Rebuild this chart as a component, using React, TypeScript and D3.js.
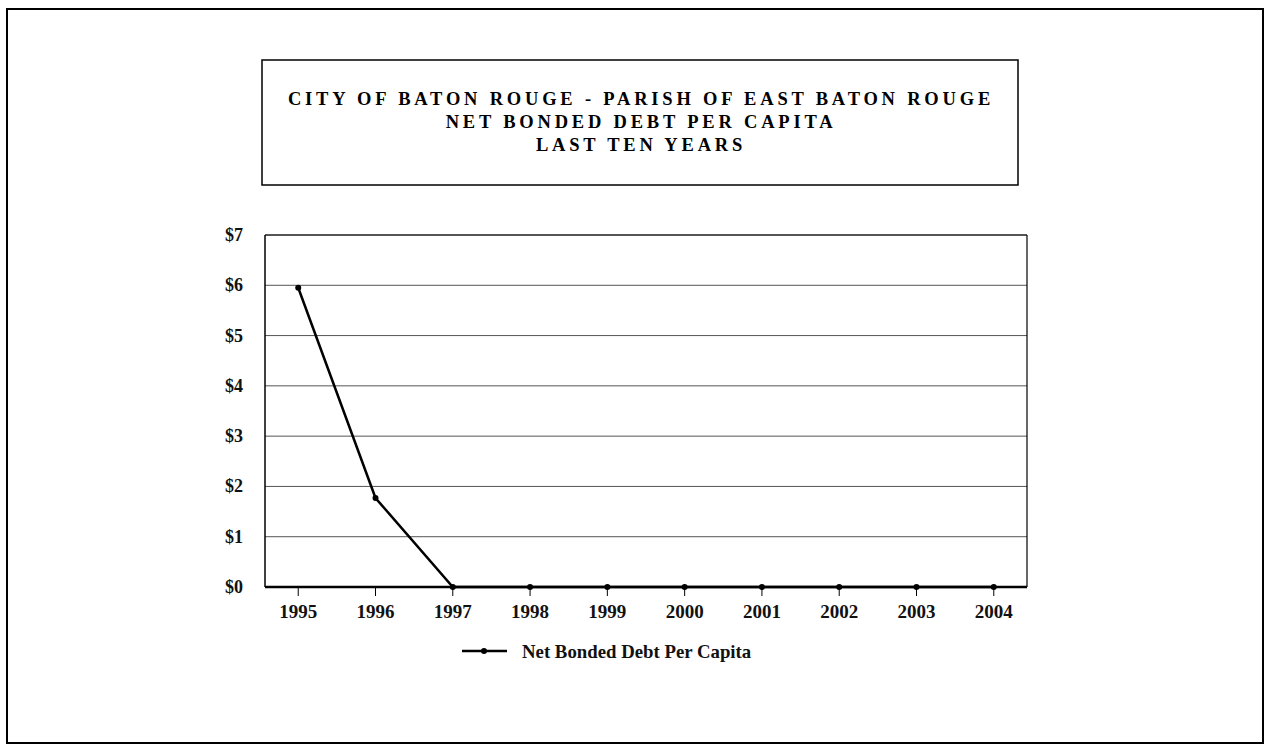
import React from "react";
import * as d3 from "d3";

const years = ["1995", "1996", "1997", "1998", "1999", "2000", "2001", "2002", "2003", "2004"];
const debtPerCapita = [5.95, 1.77, 0, 0, 0, 0, 0, 0, 0, 0];
const yTicks = [0, 1, 2, 3, 4, 5, 6, 7];
const titleLines = [
  "CITY OF BATON ROUGE - PARISH OF EAST BATON ROUGE",
  "NET BONDED DEBT PER CAPITA",
  "LAST TEN YEARS",
];
const seriesName = "Net Bonded Debt Per Capita";

const W = 1268;
const H = 752;
const plot = { left: 265, right: 1027, top: 235, bottom: 587 };
const font = "'Liberation Serif', 'Times New Roman', serif";

export default function App() {
  const x = d3.scalePoint<string>().domain(years).range([plot.left, plot.right]).padding(0.43);
  const y = d3.scaleLinear().domain([0, 7]).range([plot.bottom, plot.top]);
  const line = d3
    .line<number>()
    .x((_, i) => x(years[i]) as number)
    .y((d) => y(d));

  return (
    <svg
      width={W}
      height={H}
      style={{ position: "absolute", left: 0, top: 0, background: "#fff" }}
    >
      <rect x={0} y={0} width={W} height={H} fill="#fff" />
      {/* outer border */}
      <rect x={7} y={9} width={1256} height={734} fill="none" stroke="#000" strokeWidth={2} />
      {/* title box */}
      <rect x={262} y={60} width={756} height={125} fill="none" stroke="#000" strokeWidth={1.5} />
      {titleLines.map((t, i) => (
        <text
          key={i}
          x={641}
          y={105 + i * 23}
          textAnchor="middle"
          fontFamily={font}
          fontWeight="bold"
          fontSize={18.5}
          letterSpacing={3.8}
          fill="#000"
        >
          {t}
        </text>
      ))}

      {/* gridlines */}
      {yTicks.map((v) => (
        <line
          key={v}
          x1={plot.left}
          x2={plot.right}
          y1={y(v)}
          y2={y(v)}
          stroke={v === 0 ? "#000" : "#555"}
          strokeWidth={v === 0 ? 2.5 : 1}
        />
      ))}
      {/* plot border */}
      <line x1={plot.left} x2={plot.left} y1={plot.top} y2={plot.bottom} stroke="#000" strokeWidth={1.5} />
      <line x1={plot.right} x2={plot.right} y1={plot.top} y2={plot.bottom} stroke="#000" strokeWidth={1.2} />
      <line x1={plot.left} x2={plot.right} y1={plot.top} y2={plot.top} stroke="#000" strokeWidth={1.2} />

      {/* y labels */}
      {yTicks.map((v) => (
        <text
          key={v}
          x={243}
          y={y(v) + 6}
          textAnchor="end"
          fontFamily={font}
          fontWeight="bold"
          fontSize={18}
          fill="#111"
        >
          {"$" + v}
        </text>
      ))}

      {/* x ticks & labels */}
      {years.map((yr) => (
        <g key={yr}>
          <line
            x1={x(yr)}
            x2={x(yr)}
            y1={plot.bottom}
            y2={plot.bottom + 9}
            stroke="#000"
            strokeWidth={1}
          />
          <text
            x={x(yr)}
            y={618}
            textAnchor="middle"
            fontFamily={font}
            fontWeight="bold"
            fontSize={19}
            fill="#111"
          >
            {yr}
          </text>
        </g>
      ))}

      {/* series */}
      <path d={line(debtPerCapita) ?? ""} fill="none" stroke="#000" strokeWidth={2.5} />
      {debtPerCapita.map((v, i) => (
        <circle key={i} cx={x(years[i])} cy={y(v)} r={3} fill="#000" />
      ))}

      {/* legend */}
      <line x1={462} x2={507} y1={651} y2={651} stroke="#000" strokeWidth={2.5} />
      <circle cx={484} cy={651} r={3} fill="#000" />
      <text x={522} y={658} fontFamily={font} fontWeight="bold" fontSize={18.8} fill="#111">
        {seriesName}
      </text>
    </svg>
  );
}
